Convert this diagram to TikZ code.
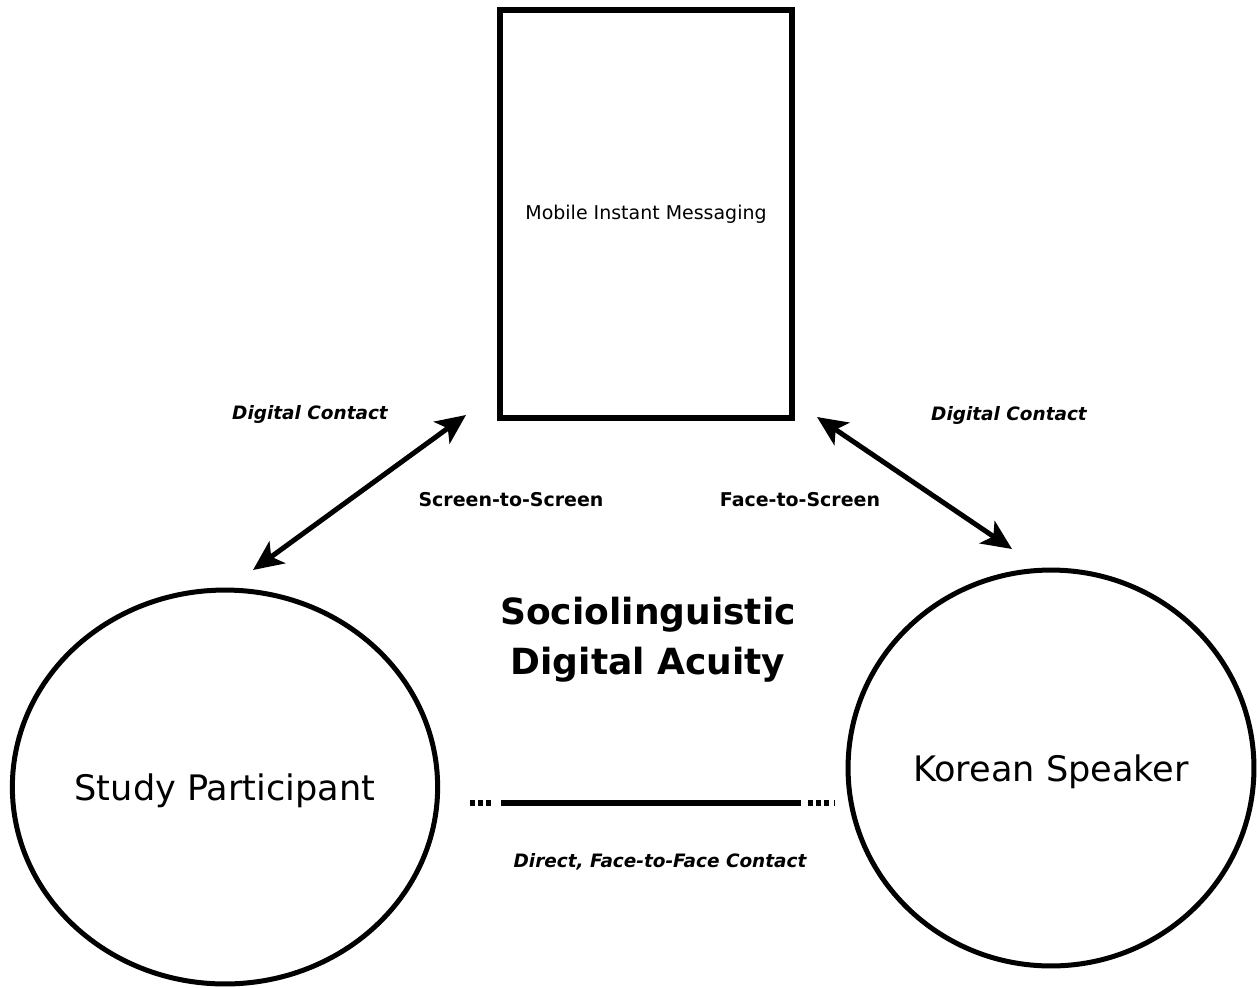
\documentclass[tikz,border=0pt]{standalone}
\usepackage{fontspec}
\setmainfont{DejaVu Sans}
\usetikzlibrary{arrows.meta, shapes.geometric}
\tikzset{
  msgbox/.style={draw, line width=0.12cm, minimum width=5.84cm, minimum height=8.18cm,
    inner sep=0pt, font=\fontsize{10.8}{13}\selectfont},
  person/.style={draw, ellipse, line width=0.1cm, inner sep=0pt, text depth=0pt,
    font=\fontsize{20}{24}\selectfont},
  contact/.style={{Stealth[length=6mm, width=5.4mm, inset=1.5mm]}-{Stealth[length=6mm, width=5.4mm, inset=1.5mm]},
    line width=0.1cm},
  faceline/.style={line width=0.11cm,
    dash pattern=on 0.1cm off 0.06cm on 0.1cm off 0.06cm on 0.1cm off 0.2cm on 6cm off 0.14cm on 0.1cm off 0.06cm on 0.1cm off 0.06cm on 0.1cm},
  linktag/.style={font=\fontsize{10.5}{12}\selectfont\bfseries\itshape},
  modetag/.style={font=\fontsize{10.8}{12}\selectfont\bfseries},
  acuity/.style={font=\fontsize{20.5}{28.5}\selectfont\bfseries, align=center}
}

\begin{document}
\begin{tikzpicture}[x=0.02cm, y=-0.02cm]
  \useasboundingbox (0,0) rectangle (1257,987);

  % the three parties
  \node[msgbox] (mim) at (646,214) {\raisebox{-3pt}{Mobile Instant Messaging}};
  \node[person, minimum width=8.44cm, minimum height=7.88cm] (sp) at (225,787) {Study Participant};
  \node[person, minimum width=8.12cm, minimum height=7.92cm] (ks) at (1051,768) {Korean Speaker};

  % arrow ends
  \coordinate (spTop) at (253,570);
  \coordinate (mimLeft) at (466,415);
  \coordinate (mimRight) at (817,417);
  \coordinate (ksTop) at (1012,549);
  \coordinate (faceL) at (470,803);
  \coordinate (faceR) at (834,803);

  \draw[contact] (spTop) -- (mimLeft);
  \draw[contact] (mimRight) -- (ksTop);
  \draw[faceline] (faceL) -- (faceR);

  % labels
  \node[linktag] (dcLeft) at (310,414) {Digital Contact};
  \node[linktag] (dcRight) at (1009,415) {Digital Contact};
  \node[modetag] (sts) at (511,500) {Screen-to-Screen};
  \node[modetag] (fts) at (800,500) {Face-to-Screen};
  \node[acuity] (sda) at (648,640) {Sociolinguistic\\Digital Acuity};
  \node[linktag] (f2f) at (660,862) {Direct, Face-to-Face Contact};
\end{tikzpicture}
\end{document}
